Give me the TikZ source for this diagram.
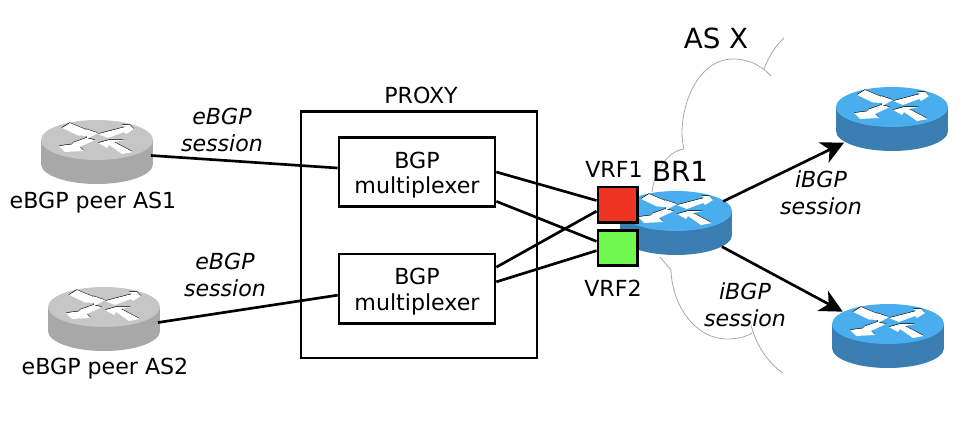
\documentclass[tikz,border=0pt]{standalone}
\usepackage{fontspec}
\setmainfont{DejaVu Sans}
\usetikzlibrary{arrows.meta}
\definecolor{bluetop}{HTML}{4AAEEE}
\definecolor{blueside}{HTML}{3A7DB0}
\definecolor{graytop}{HTML}{C6C6C6}
\definecolor{grayside}{HTML}{A8A8A8}
\definecolor{cloudline}{HTML}{A8A8A8}
\definecolor{vrfred}{HTML}{EE3524}
\definecolor{vrfgreen}{HTML}{6FF94F}
\tikzset{
  x=.75pt,y=-.75pt,
  box/.style={draw=black,line width=2pt,fill=white,inner sep=0pt,align=center,font=\fontsize{16.6}{20}\selectfont},
  label/.style={font=\fontsize{16.6}{20}\selectfont,inner sep=0pt,align=center},
  session/.style={label,font=\fontsize{16.6}{20}\selectfont\itshape},
  big/.style={font=\fontsize{20.8}{24}\selectfont,inner sep=0pt},
  link/.style={line width=2pt,draw=black},
  arrowlink/.style={link,-{Stealth[length=17pt,width=17pt,inset=5pt]}},
  cloud/.style={draw=cloudline,line width=.6pt},
  routerbox/.style={inner sep=0pt,minimum width=82.5pt,minimum height=50pt},
  pics/router/.style 2 args={code={
    \fill[#2] (-56,0) rectangle (56,24);
    \fill[#2] (0,24) ellipse [x radius=42pt,y radius=15pt];
    \fill[#1] (0,0) ellipse [x radius=42pt,y radius=15pt];
    \foreach \c/\o in {black/1,white/0}{
      \fill[\c,shift={(-\o*.3,-\o*.6)}] (-35,-12)--(-27,-17)--(-9,-9.5)--(-11,-11)--(1,-7)--(-10,-1)--(-10,-4)--(-19,-4.5)--cycle;
      \fill[\c,shift={(\o*.1,-\o*.6)}] (37,-11)--(33,-15)--(25,-15)--(28,-13)--(1,-6)--(11,-2)--(27,-8)--(29,-6)--cycle;
      \fill[\c,shift={(\o*.1,-\o*.6)}] (-38,6)--(-23,4)--(-25,3)--(-11,-2)--(-2,0)--(-17,7)--(-13,11)--(-32,12)--cycle;
      \fill[\c,shift={(-\o*.1,-\o*.6)}] (1,3)--(12,0)--(27,0)--(17,2)--(36,12)--(25,14)--(12,5)--(10,8)--cycle;
    }
  }}
}
\begin{document}
\begin{tikzpicture}
\useasboundingbox (0,0) rectangle (970,422);
% cloud
\draw[cloud] (771,76) .. controls (757,61) and (742,59) .. (733,59) .. controls (700,59) and (682,100) .. (682,133) .. controls (682,140) and (683,145) .. (684,149);
\draw[cloud] (784,38) .. controls (775,46) and (768,58) .. (764,69);
\draw[cloud] (684,149) .. controls (668,151) and (655,170) .. (652,192);
\draw[cloud] (660,257) -- (671,270) .. controls (672,305) and (695,339) .. (727,339) .. controls (737,339) and (746,337) .. (752,333);
\draw[cloud] (751,325) .. controls (756,345) and (768,363) .. (783,373);
% routers
\pic at (97,140) {router={graytop}{grayside}};
\pic at (104,307) {router={graytop}{grayside}};
\pic at (676,211) {router={bluetop}{blueside}};
\pic at (892,107) {router={bluetop}{blueside}};
\pic at (888,324) {router={bluetop}{blueside}};
\node[routerbox] (peerA) at (97,151.5) {};
\node[routerbox] (peerB) at (104,318.5) {};
\node[routerbox] (brOne) at (676,224) {};
\node[routerbox] (ibgpA) at (892,120) {};
\node[routerbox] (ibgpB) at (888,337) {};
% boxes
\node[box,minimum width=177pt,minimum height=185pt] (proxy) at (419,234.5) {};
\node[box,minimum width=117pt,minimum height=52pt] (muxA) at (417,172) {\rule{0pt}{17pt}BGP\\[-1pt]multiplexer};
\node[box,minimum width=117pt,minimum height=52pt] (muxB) at (417,288.5) {\rule{0pt}{17pt}BGP\\[-1pt]multiplexer};
\node[box,fill=vrfred,minimum width=29.5pt,minimum height=26.5pt] (vrfA) at (617.5,204.5) {};
\node[box,fill=vrfgreen,minimum width=29.5pt,minimum height=26.5pt] (vrfB) at (617.5,248) {};
% connectors
\draw[link] ([xshift=-1pt,yshift=-3pt]peerA.east) -- ([yshift=3pt]muxA.west);
\draw[link] ([xshift=-1pt,yshift=-3pt]peerB.east) -- ([yshift=-5pt]muxB.west);
\draw[link] ([yshift=0pt]muxA.east) -- ([yshift=3pt]vrfA.west);
\draw[link] ([yshift=-22pt]muxA.east) -- ([yshift=5pt]vrfB.west);
\draw[link] ([yshift=16pt]muxB.east) -- ([yshift=-5pt]vrfA.west);
\draw[link] ([yshift=5pt]muxB.east) -- ([yshift=-2pt]vrfB.west);
\draw[arrowlink] ([xshift=-6pt,yshift=17pt]brOne.east) -- ([xshift=5.5pt,yshift=-17pt]ibgpA.west);
\draw[arrowlink] ([xshift=-7pt,yshift=-17pt]brOne.east) -- ([xshift=7.5pt,yshift=19pt]ibgpB.west);
% labels
\node[label] (proxylabel) at (421,95) {PROXY};
\node[label] (vrfAlabel) at (614,169) {VRF1};
\node[label] (vrfBlabel) at (613,288) {VRF2};
\node[big] (brlabel) at (680,171) {BR1};
\node[big] (aslabel) at (716,38) {AS X};
\node[label] (peerAlabel) at (93,203) {eBGP peer AS1};
\node[label] (peerBlabel) at (105,369) {eBGP peer AS2};
\node[session] (sa) at (222,130) {eBGP\\session};
\node[session] (sb) at (225,275) {eBGP\\session};
\node[session] (sc) at (821,193) {iBGP\\session};
\node[session] (sd) at (745,305) {iBGP\\session};
\end{tikzpicture}
\end{document}
